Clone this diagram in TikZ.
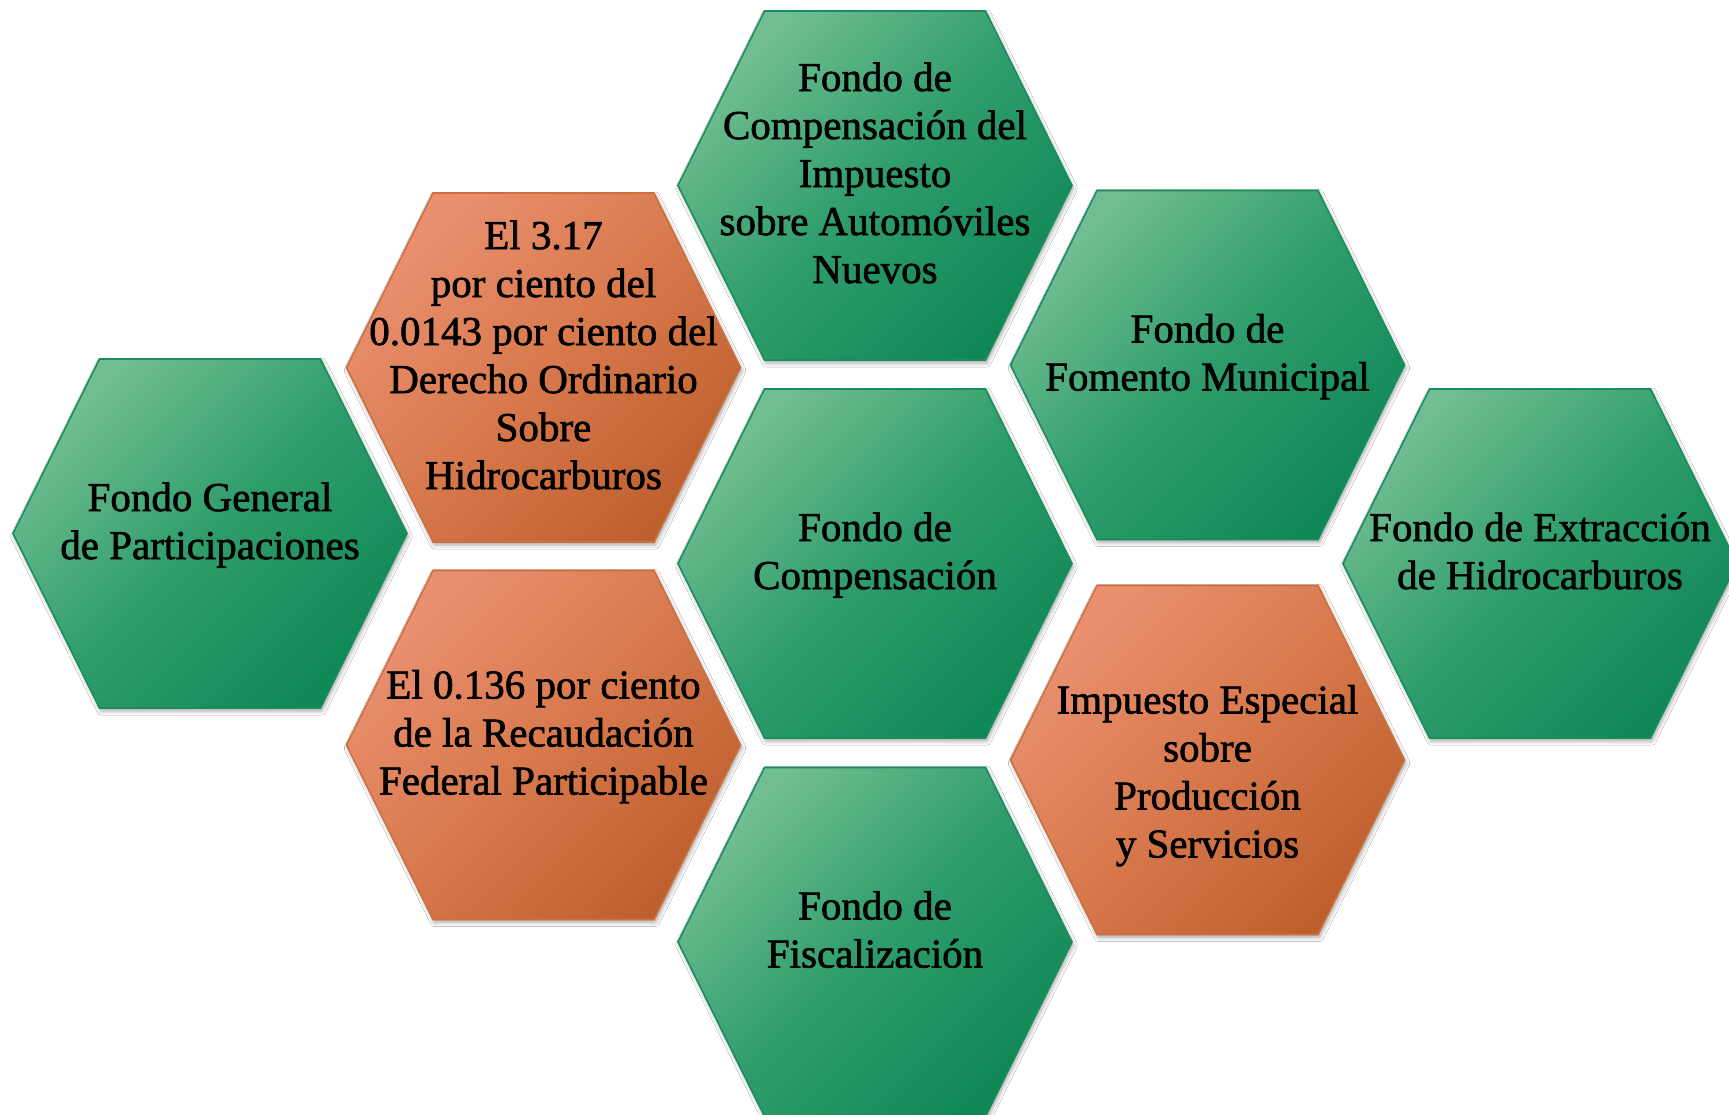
\documentclass[tikz,border=0pt]{standalone}
\usepackage{fontspec}
\newfontfamily\hexfont[FakeBold=1.6]{Liberation Serif}
\usetikzlibrary{shadows.blur}
\definecolor{gA}{RGB}{114,190,146}
\definecolor{gB}{RGB}{46,157,107}
\definecolor{gC}{RGB}{16,136,86}
\definecolor{gLine}{RGB}{24,142,94}
\definecolor{oA}{RGB}{234,144,112}
\definecolor{oB}{RGB}{216,121,77}
\definecolor{oC}{RGB}{190,96,46}
\definecolor{oLine}{RGB}{204,112,62}
\tikzset{
  hexshadow/.style={blur shadow={shadow xshift=1.5pt, shadow yshift=-3pt, shadow blur radius=4pt, shadow opacity=35}},
  hexgreen/.style={hexshadow, draw=gLine, line width=1.6pt, top color=gA, bottom color=gC, middle color=gB, shading angle=45},
  hexorange/.style={hexshadow, draw=oLine, line width=1.6pt, top color=oA, bottom color=oC, middle color=oB, shading angle=45},
  hextext/.style={font=\hexfont\fontsize{41}{48}\selectfont, align=center, text=black, inner sep=0pt,
    execute at begin node=\strut, execute at end node=\strut}
}
\newcommand\hexcell[6][-5.5]{%
  \begin{scope}[shift={(#3,#4)}]
    \path[#5] (-197,0) -- (-110.5,-174.5) -- (110.5,-174.5) -- (197,0) -- (110.5,174.5) -- (-110.5,174.5) -- cycle;
    \node[hextext] (#2) at (0,#1) {#6};
  \end{scope}}
\begin{document}
\begin{tikzpicture}[x=1pt,y=-1pt]
\fill[white] (0,0) rectangle (1729,1115);
\useasboundingbox (0,0) rectangle (1729,1115);
\clip (0,0) rectangle (1729,1115);
\hexcell{fgp}{210}{533.5}{hexgreen}{Fondo General\\de Participaciones}
\hexcell{drh}{543.5}{367.5}{hexorange}{El 3.17\\por ciento del\\0.0143 por ciento del\\Derecho Ordinario\\Sobre\\Hidrocarburos}
\hexcell{rfp}{543.5}{745}{hexorange}{El 0.136 por ciento\\de la Recaudación\\Federal Participable}
\hexcell{isan}{875}{185.5}{hexgreen}{Fondo de\\Compensación del\\Impuesto\\sobre Automóviles\\Nuevos}
\hexcell{fc}{875}{563.5}{hexgreen}{Fondo de\\Compensación}
\hexcell{ff}{875}{942}{hexgreen}{Fondo de\\Fiscalización}
\hexcell{ffm}{1207.5}{365}{hexgreen}{Fondo de\\Fomento Municipal}
\hexcell[18.5]{ieps}{1207.5}{760}{hexorange}{Impuesto Especial\\sobre\\Producción\\y Servicios}
\hexcell{feh}{1540}{563.5}{hexgreen}{Fondo de Extracción\\de Hidrocarburos}
\end{tikzpicture}
\end{document}
